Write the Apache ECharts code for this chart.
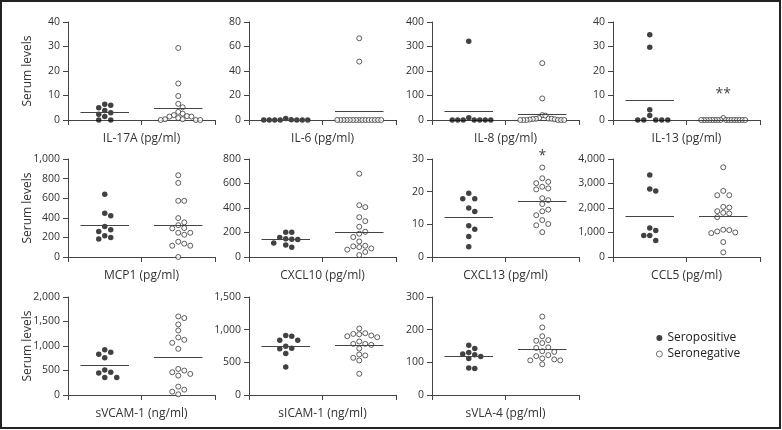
<!DOCTYPE html>
<html><head><meta charset="utf-8">
<script src="https://cdn.jsdelivr.net/npm/echarts@6/dist/echarts.min.js"></script>
<style>html,body{margin:0;padding:0;background:#fff}#c{width:782px;height:430px}</style>
</head><body><div id="c"></div>
<script>
// ---------- data ----------
const panelNames = ['IL-17A (pg/ml)','IL-6 (pg/ml)','IL-8 (pg/ml)','IL-13 (pg/ml)',
  'MCP1 (pg/ml)','CXCL10 (pg/ml)','CXCL13 (pg/ml)','CCL5 (pg/ml)',
  'sVCAM-1 (ng/ml)','sICAM-1 (ng/ml)','sVLA-4 (pg/ml)'];
const yMax  = [40, 80, 400, 40, 1000, 800, 30, 4000, 2000, 1500, 300];
const yStep = [10, 20, 100, 10, 200, 200, 10, 1000, 500, 500, 100];

const posIL17A = [6.4, 6.0, 5.0, 3.9, 3.0, 2.3, 1.4, 0, 0];
const negIL17A = [29.4, 14.9, 9.8, 6.6, 5.2, 3.3, 2.6, 2.0, 1.6, 1.4, 1.4, 0.8, 0.3, 0.3, 0, 0, 0];
const posIL6   = [0, 0, 0, 1.2, 0.3, 0, 0, 0, 0];
const negIL6   = [66.7, 47.7, 0, 0, 0, 0, 0, 0, 0, 0, 0, 0, 0, 0, 0, 0, 0];
const posIL8   = [321, 9, 0, 0, 0, 0, 0, 0, 0];
const negIL8   = [232, 88, 20, 18, 8, 6, 5, 5, 4, 3, 2, 0, 0, 0, 0, 0, 0];
const posIL13  = [34.8, 29.7, 4.2, 1.8, 0, 0, 0, 0, 0];
const negIL13  = [0.8, 0, 0, 0, 0, 0, 0, 0, 0, 0, 0, 0, 0, 0, 0, 0, 0];
const posMCP1  = [641, 447, 420, 312, 278, 261, 217, 200, 183];
const negMCP1  = [834, 756, 573, 573, 397, 353, 325, 295, 292, 247, 247, 227, 156, 136, 115, 115, 0];
const posCXCL10 = [203, 203, 160, 148, 145, 142, 115, 98, 80];
const negCXCL10 = [680, 423, 407, 325, 293, 247, 206, 190, 163, 127, 92, 87, 81, 70, 60, 41, 16];
const posCXCL13 = [19.5, 17.8, 17.8, 15.0, 13.9, 9.6, 8.5, 6.3, 3.1];
const negCXCL13 = [27.4, 24.1, 23.0, 22.6, 21.5, 21.0, 20.7, 18.0, 17.4, 16.2, 14.5, 14.0, 12.8, 11.3, 10.1, 9.7, 7.6];
const posCCL5  = [3349, 2780, 2698, 1180, 1085, 881, 881, 678];
const negCCL5  = [3661, 2698, 2522, 2522, 2047, 2020, 1871, 1803, 1776, 1627, 1112, 1098, 1044, 1003, 976, 610, 190];
const posSVCAM = [921, 874, 833, 758, 512, 464, 451, 355, 355];
const negSVCAM = [1604, 1570, 1440, 1317, 1174, 1126, 1065, 942, 532, 498, 464, 430, 396, 171, 109, 68, 14];
const posSICAM = [910, 900, 839, 839, 747, 717, 707, 636, 427];
const negSICAM = [1017, 946, 935, 930, 910, 900, 885, 819, 783, 783, 768, 712, 620, 605, 569, 529, 325];
const posSVLA  = [152, 142, 130, 125.5, 123, 118, 112, 83, 81];
const negSVLA  = [240, 207, 180, 168, 166, 159, 146, 144, 134, 132, 122, 119, 112, 109, 106, 106, 94];

const meanPos = [3.25, 0.2, 36.6, 8.1, 325, 146, 12.3, 1668, 614, 742, 119];
const meanNeg = [4.7, 7.3, 23, 0.05, 325, 206, 17.1, 1668, 764, 758, 141];

// significance marks: panel index, text, y value
const sigPanels = [3, 6];
const sigText   = ['**', '*'];
const sigValue  = [10.6, 30];

const posData = [posIL17A, posIL6, posIL8, posIL13, posMCP1, posCXCL10, posCXCL13, posCCL5, posSVCAM, posSICAM, posSVLA];
const negData = [negIL17A, negIL6, negIL8, negIL13, negMCP1, negCXCL10, negCXCL13, negCCL5, negSVCAM, negSICAM, negSVLA];

// ---------- layout ----------
const colLeft = [68, 249, 432, 613];
const rowTop = [22, 159, 297];
const gW = 147, gH = 98;
const FONT = 'Open Sans';
const centers = [0.5, 1.5];
const HALF = 0.33;
const sigOffsetY = [0, -3];

const chart = echarts.init(document.getElementById('c'), null, {renderer: 'canvas'});

const grids = [], xAxes = [], yAxes = [], series = [];
const fmt = v => v.toLocaleString('en-US');
for (let g = 0; g < panelNames.length; g++) {
  const r = Math.floor(g / 4), c = g % 4;
  grids.push({left: colLeft[c], top: rowTop[r], width: gW, height: gH, containLabel: false});
  xAxes.push({
    type: 'value', gridIndex: g, min: 0, max: 2, interval: 1,
    axisLine: {show: true, lineStyle: {color: '#444', width: 1}},
    axisTick: {show: true, length: 5, lineStyle: {color: '#444'}},
    axisLabel: {show: false}, splitLine: {show: false},
    name: panelNames[g], nameLocation: 'middle', nameGap: 13, nameMoveOverlap: false,
    nameTextStyle: {fontFamily: FONT, fontSize: 12, color: '#333', verticalAlign: 'top'}
  });
  yAxes.push({
    type: 'value', gridIndex: g, min: 0, max: yMax[g], interval: yStep[g],
    axisLine: {show: true, lineStyle: {color: '#444', width: 1}},
    axisTick: {show: true, length: 5, lineStyle: {color: '#444'}},
    axisLabel: {fontFamily: FONT, fontSize: 10.5, color: '#333', margin: 8, formatter: fmt},
    splitLine: {show: false},
    name: c === 0 ? 'Serum levels' : '', nameLocation: 'middle', nameGap: 34, nameMoveOverlap: false,
    nameTextStyle: {fontFamily: FONT, fontSize: 12, color: '#333'}
  });
  const ml = (cx, m) => ({
    silent: true, symbol: 'none', animation: false, label: {show: false},
    lineStyle: {color: '#444', width: 1.2, type: 'solid'},
    emphasis: {disabled: true},
    data: [[{coord: [cx - HALF, m]}, {coord: [cx + HALF, m]}]]
  });
  series.push({
    type: 'scatter', name: 'Seropositive', xAxisIndex: g, yAxisIndex: g,
    symbol: 'circle', symbolSize: 5.5, itemStyle: {color: '#111'},
    data: posData[g].map(v => [centers[0], v]), markLine: ml(centers[0], meanPos[g]), z: 3
  });
  const neg = {
    type: 'scatter', name: 'Seronegative', xAxisIndex: g, yAxisIndex: g,
    symbol: 'circle', symbolSize: 5, itemStyle: {color: '#fff', borderColor: '#222', borderWidth: 0.9},
    data: negData[g].map(v => [centers[1], v]), markLine: ml(centers[1], meanNeg[g]), z: 3
  };
  const si = sigPanels.indexOf(g);
  if (si >= 0) {
    neg.markPoint = {
      symbol: 'circle', symbolSize: 0, silent: true, animation: false,
      label: {show: true, position: 'inside', offset: [0, sigOffsetY[si]], formatter: sigText[si],
        fontFamily: FONT, fontSize: 14, color: '#444'},
      data: [{coord: [centers[1], sigValue[si]]}]
    };
  }
  series.push(neg);
}

const option = {
  animation: false,
  backgroundColor: '#fff',
  grid: grids, xAxis: xAxes, yAxis: yAxes, series,
  legend: {
    data: [{name: 'Seropositive'}, {name: 'Seronegative', itemStyle: {borderWidth: 0.8}}],
    orient: 'vertical', left: 651, top: 327,
    icon: 'circle', itemWidth: 6, itemHeight: 6, itemGap: 4,
    textStyle: {fontFamily: FONT, fontSize: 12, color: '#222'}, selectedMode: false
  },
  graphic: [{type: 'rect', shape: {x: 1, y: 1, width: 779, height: 427},
    style: {fill: 'none', stroke: '#222', lineWidth: 2}, silent: true}]
};
chart.setOption(option);

// beeswarm layout computed through the chart's scales
function swarm(values, pxPerY, step, diam, maxHalf) {
  const idx = values.map((v, i) => i).sort((a, b) => values[b] - values[a]);
  const placed = [], off = new Array(values.length).fill(0);
  for (const i of idx) {
    const y = values[i] * pxPerY;
    for (let k = 0; k < 200; k++) {
      const cand = (k === 0 ? 0 : (k % 2 ? 1 : -1) * Math.ceil(k / 2)) * step;
      if (placed.every(p => (p.x - cand) ** 2 + (p.y - y) ** 2 >= diam * diam - 1e-6)) {
        off[i] = cand; placed.push({x: cand, y}); break;
      }
    }
  }
  const m = Math.max(...off.map(Math.abs));
  if (m > maxHalf) { const s = maxHalf / m; return off.map(o => o * s); }
  return off;
}
const upd = [];
for (let g = 0; g < panelNames.length; g++) {
  const p0 = chart.convertToPixel({gridIndex: g}, [0, 0]);
  const p1 = chart.convertToPixel({gridIndex: g}, [1, yMax[g]]);
  const pxX = p1[0] - p0[0], pxY = (p0[1] - p1[1]) / yMax[g];
  [posData[g], negData[g]].forEach((vals, k) => {
    const off = swarm(vals, pxY, 6, 5.6, 22);
    upd.push({data: vals.map((v, i) => [centers[k] + off[i] / pxX, v])});
  });
}
chart.setOption({series: upd});
</script></body></html>
